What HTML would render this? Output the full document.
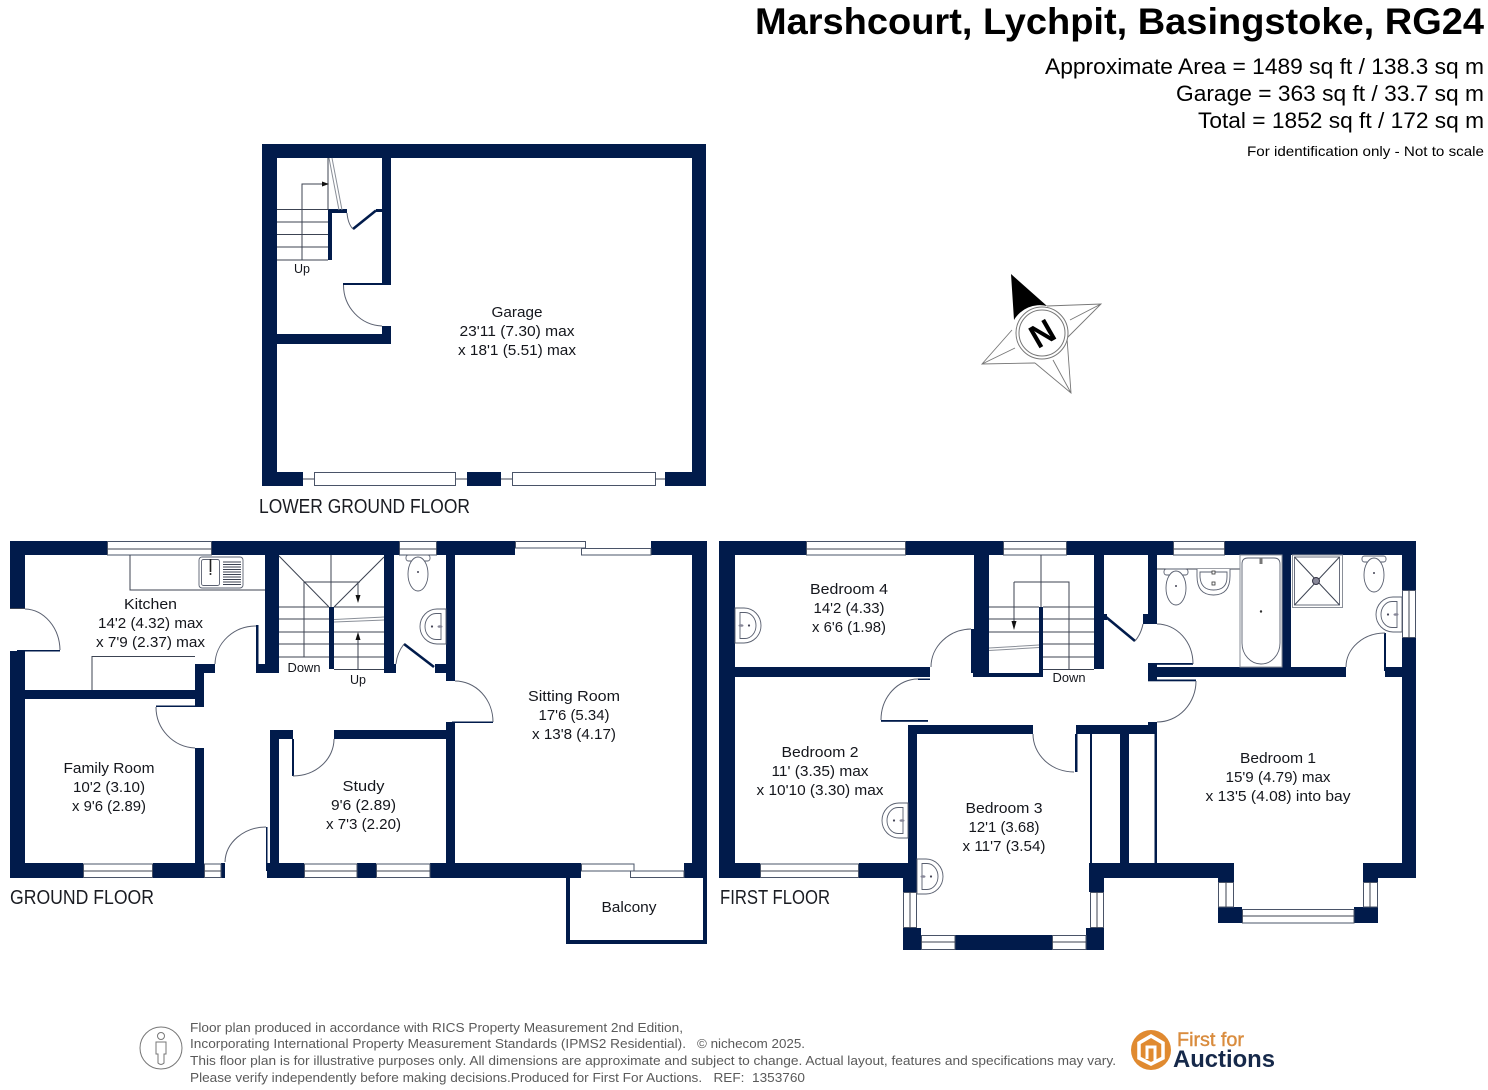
<!DOCTYPE html>
<html><head><meta charset="utf-8"><title>Floor plan</title>
<style>
html,body{margin:0;padding:0;background:#fff}
svg{display:block}
text{font-family:"Liberation Sans",sans-serif;fill:#14161c}
.r text,text.r{font-size:15px;text-anchor:middle}
.wall{fill:#011b4b}
.win{fill:#fff;stroke:#4a5468;stroke-width:1}
.ln{fill:none;stroke:#3c4352;stroke-width:1}
.gl{fill:none;stroke:#8a8f98;stroke-width:1}
.arc{fill:none;stroke:#5a6070;stroke-width:1}
.thick{fill:none;stroke:#011b4b;stroke-width:2.6}
.fx{fill:#fff;stroke:#5a6070;stroke-width:.9}
.ft{font-size:12.6px;fill:#5a5a5a}
.fl{font-size:20px;fill:#1a1c22}
</style></head><body>
<svg width="1488" height="1090" viewBox="0 0 1488 1090" xmlns="http://www.w3.org/2000/svg">
<defs>
<g id="toilet"><rect class="fx" x="-12" y="0" width="24" height="6" rx="2.5"/><ellipse class="fx" cx="0" cy="19" rx="10" ry="17"/><circle cx="0" cy="17" r="1" fill="#445"/></g>
<g id="sink"><path class="fx" d="M0 0H-9A17 17.5 0 0 0 -9 35H0Z"/><path class="fx" d="M-5 4.500H-10A11 13 0 0 0 -10 30.500H-5Z"/><circle cx="-14" cy="17.500" r="1.100" fill="#445"/><ellipse cx="-6" cy="17.500" rx="2.500" ry="1.300" fill="#889"/></g>
</defs>

<!-- Title -->
<text x="1484" y="34" text-anchor="end" font-size="37" font-weight="700" textLength="729" lengthAdjust="spacingAndGlyphs" style="fill:#000">Marshcourt, Lychpit, Basingstoke, RG24</text>
<text x="1484" y="74" text-anchor="end" font-size="22" textLength="439" lengthAdjust="spacingAndGlyphs" style="fill:#000">Approximate Area = 1489 sq ft / 138.3 sq m</text>
<text x="1484" y="101" text-anchor="end" font-size="22" textLength="308" lengthAdjust="spacingAndGlyphs" style="fill:#000">Garage = 363 sq ft / 33.7 sq m</text>
<text x="1484" y="128" text-anchor="end" font-size="22" textLength="286" lengthAdjust="spacingAndGlyphs" style="fill:#000">Total = 1852 sq ft / 172 sq m</text>
<text x="1484" y="156" text-anchor="end" font-size="14" textLength="237" lengthAdjust="spacingAndGlyphs" style="fill:#000">For identification only - Not to scale</text>

<!-- ============ GARAGE ============ -->
<g class="wall">
<rect x="262" y="144" width="444" height="14"/>
<rect x="262" y="144" width="15" height="342"/>
<rect x="692" y="144" width="14" height="342"/>
<rect x="262" y="472" width="41" height="14"/>
<rect x="467" y="472" width="34" height="14"/>
<rect x="665" y="472" width="41" height="14"/>
<rect x="382" y="158" width="9" height="126"/>
<rect x="382" y="326" width="9" height="18"/>
<rect x="277" y="334" width="114" height="10"/>
<rect x="343" y="283" width="48" height="2"/>
<rect x="328" y="210" width="4" height="50"/>
<rect x="328" y="209" width="19" height="4"/>
<rect x="376" y="209" width="6" height="3"/>
</g>
<rect class="win" x="314.500" y="472.500" width="141" height="13"/>
<rect class="win" x="512.500" y="472.500" width="143" height="13"/>
<path class="ln" d="M303 479H314M456 479H467M501 479H512M655 479H665"/>
<path class="arc" d="M343.500 285A40 41 0 0 0 382 326"/>
<path class="thick" d="M353 229L376 210.500"/>
<path class="arc" d="M347 213Q348 224 353 229"/>
<path class="ln" d="M277 209.500H328M277 222H328M277 234.500H328M277 247H328M277 260H328M302 260V184H326M328 158V210"/>
<path d="M322 181.500L329 184L322 186.500Z" fill="#111"/>
<path class="gl" d="M329 158L339 210M332 158L342 210"/>
<text class="r" x="302" y="273" style="font-size:12.500px" textLength="16" lengthAdjust="spacingAndGlyphs">Up</text>
<g class="r">
<text x="517" y="317" textLength="51" lengthAdjust="spacingAndGlyphs">Garage</text>
<text x="517" y="336" textLength="115" lengthAdjust="spacingAndGlyphs">23'11 (7.30) max</text>
<text x="517" y="355" textLength="118" lengthAdjust="spacingAndGlyphs">x 18'1 (5.51) max</text>
</g>
<text class="fl" x="259" y="513" textLength="211" lengthAdjust="spacingAndGlyphs">LOWER GROUND FLOOR</text>

<!-- ============ GROUND FLOOR ============ -->
<g class="wall">
<rect x="10" y="541" width="97" height="14"/>
<rect x="212" y="541" width="187" height="14"/>
<rect x="437" y="541" width="78" height="14"/>
<rect x="651" y="541" width="56" height="14"/>
<rect x="692" y="541" width="15" height="337"/>
<rect x="10" y="541" width="15" height="68"/>
<rect x="10" y="651" width="15" height="227"/>
<rect x="25" y="690" width="179" height="9"/>
<rect x="195" y="664" width="9" height="42"/>
<rect x="195" y="664" width="20" height="9"/>
<rect x="156" y="705.500" width="48" height="1.500"/>
<rect x="195" y="748" width="9" height="130"/>
<rect x="17" y="650" width="43" height="1.500"/>
<rect x="265" y="555" width="14" height="118"/>
<rect x="256" y="625" width="2.500" height="48"/>
<rect x="256" y="664" width="23" height="9"/>
<rect x="329" y="607" width="5" height="62"/>
<rect x="384" y="555" width="10" height="118"/>
<rect x="394" y="664" width="2" height="9"/>
<rect x="435" y="664" width="11" height="9"/>
<rect x="446" y="555" width="9" height="126"/>
<rect x="446" y="722" width="9" height="156"/>
<rect x="452" y="721.500" width="41" height="1.500"/>
<rect x="270" y="730" width="23" height="9"/>
<rect x="334" y="730" width="112" height="9"/>
<rect x="270" y="730" width="9" height="148"/>
<rect x="292" y="739" width="2" height="37"/>
<rect x="10" y="863" width="73" height="15"/>
<rect x="153" y="863" width="51" height="15"/>
<rect x="221" y="863" width="4" height="15"/>
<rect x="267" y="863" width="37" height="15"/>
<rect x="266" y="827" width="1.500" height="44"/>
<rect x="357" y="863" width="19" height="15"/>
<rect x="430" y="863" width="151" height="15"/>
<rect x="684" y="863" width="23" height="15"/>
<rect x="566" y="878" width="4" height="66"/>
<rect x="703" y="878" width="4" height="66"/>
<rect x="566" y="940" width="141" height="4"/>
</g>
<!-- GF windows -->
<rect class="win" x="107.500" y="541.500" width="104" height="13.500"/><path class="ln" d="M107 549H212"/>
<rect class="win" x="399.500" y="541.500" width="37" height="13.500"/><path class="ln" d="M399 549H437"/>
<rect class="win" x="515.500" y="541.500" width="70" height="6.500"/>
<rect class="win" x="581.500" y="548.500" width="69.500" height="6.500"/>
<rect class="win" x="83.500" y="864" width="69" height="13.500"/><path class="ln" d="M83 871H153"/>
<rect class="win" x="204.500" y="864" width="16.500" height="13.500"/><path class="ln" d="M204 871H221"/>
<rect class="win" x="304.500" y="864" width="52.500" height="13.500"/><path class="ln" d="M304 871H357"/>
<rect class="win" x="376.500" y="864" width="53.500" height="13.500"/><path class="ln" d="M376 871H430"/>
<rect class="win" x="581.500" y="864" width="52.500" height="7"/>
<rect class="win" x="630.500" y="871" width="53.500" height="6.500"/>
<!-- GF doors -->
<path class="arc" d="M25 609A36 42 0 0 1 60 650"/>
<path class="ln" d="M10 608.500H25"/>
<path class="arc" d="M156 707A41 41 0 0 0 195 748"/>
<path class="arc" d="M215 664A41 39 0 0 1 256 626"/>
<path class="arc" d="M293 776A41 37 0 0 0 334 739"/>
<path class="arc" d="M225 862A41 36 0 0 1 266 827"/>
<path class="arc" d="M455 681A38 41 0 0 1 493 722"/>
<path class="thick" d="M404 644L434 667"/>
<path class="arc" d="M396 664Q397 653 404 644"/>
<!-- Kitchen -->
<path class="ln" d="M130 555V590H265M92 690V656.500H195"/>
<rect class="fx" x="199" y="557" width="44" height="31" rx="3"/>
<rect class="fx" x="201.500" y="559.500" width="18" height="26" rx="2"/>
<path d="M223 562H241M223 564.500H241M223 567H241M223 569.500H241M223 572H241M223 574.500H241M223 577H241M223 579.500H241M223 582H241M223 584.500H241" stroke="#3c4352" stroke-width="1" fill="none"/>
<path d="M210.500 559V572" stroke="#222" stroke-width="1.600"/><circle cx="210.500" cy="574" r="1" fill="#222"/>
<!-- GF Stairs -->
<path class="ln" d="M279 556L329 607M384 557L334 607M331 555V607M304 582H360M304 582V657M279 607H329M279 619H329M279 632H329M279 644H329M279 657H329M334 607H384M334 632H384M334 644H384M334 657H384M334 669.500H384M358 582V597M358 636V669"/>
<path class="gl" d="M334 619.500L384 617M334 622L384 620"/>
<path d="M355.500 595L358 603L360.500 595ZM355.500 640L358 632L360.500 640Z" fill="#111"/>
<text class="r" x="304" y="672" style="font-size:12.500px" textLength="33" lengthAdjust="spacingAndGlyphs">Down</text>
<text class="r" x="358" y="684" style="font-size:12.500px" textLength="16" lengthAdjust="spacingAndGlyphs">Up</text>
<!-- WC -->
<use href="#toilet" x="418" y="555"/>
<use href="#sink" x="446" y="609"/>
<g class="r">
<text x="150.500" y="609" textLength="53" lengthAdjust="spacingAndGlyphs">Kitchen</text>
<text x="150.500" y="628" textLength="105" lengthAdjust="spacingAndGlyphs">14'2 (4.32) max</text>
<text x="150.500" y="647" textLength="109" lengthAdjust="spacingAndGlyphs">x 7'9 (2.37) max</text>
<text x="109" y="773" textLength="91" lengthAdjust="spacingAndGlyphs">Family Room</text>
<text x="109" y="792" textLength="72" lengthAdjust="spacingAndGlyphs">10'2 (3.10)</text>
<text x="109" y="811" textLength="74" lengthAdjust="spacingAndGlyphs">x 9'6 (2.89)</text>
<text x="363.500" y="791" textLength="42" lengthAdjust="spacingAndGlyphs">Study</text>
<text x="363.500" y="810" textLength="65" lengthAdjust="spacingAndGlyphs">9'6 (2.89)</text>
<text x="363.500" y="829" textLength="75" lengthAdjust="spacingAndGlyphs">x 7'3 (2.20)</text>
<text x="574" y="701" textLength="92" lengthAdjust="spacingAndGlyphs">Sitting Room</text>
<text x="574" y="720" textLength="71" lengthAdjust="spacingAndGlyphs">17'6 (5.34)</text>
<text x="574" y="739" textLength="84" lengthAdjust="spacingAndGlyphs">x 13'8 (4.17)</text>
<text x="629" y="912" textLength="55" lengthAdjust="spacingAndGlyphs">Balcony</text>
</g>
<text class="fl" x="10" y="904" textLength="144" lengthAdjust="spacingAndGlyphs">GROUND FLOOR</text>

<!-- ============ FIRST FLOOR ============ -->
<g class="wall">
<rect x="719" y="541" width="87" height="14"/>
<rect x="906" y="541" width="97" height="14"/>
<rect x="1067" y="541" width="106" height="14"/>
<rect x="1225" y="541" width="191" height="14"/>
<rect x="1402" y="541" width="14" height="49"/>
<rect x="1402" y="638" width="14" height="240"/>
<rect x="719" y="541" width="16" height="337"/>
<rect x="735" y="667" width="195" height="10"/>
<rect x="918" y="678.500" width="12" height="1.500"/>
<rect x="881" y="720" width="47" height="1.800"/>
<rect x="974" y="555" width="15" height="74"/>
<rect x="971" y="629" width="18" height="44"/>
<rect x="973" y="673" width="70" height="4"/>
<rect x="1039" y="607" width="4" height="70"/>
<rect x="1094" y="555" width="10" height="114"/>
<rect x="1148" y="555" width="9" height="69"/>
<rect x="1143" y="614" width="14" height="10"/>
<rect x="1104" y="614" width="3" height="6"/>
<rect x="1148" y="663" width="45" height="1.800"/>
<rect x="1148" y="663" width="9" height="17"/>
<rect x="1148" y="667" width="198" height="10"/>
<rect x="1148" y="679.500" width="48" height="1.800"/>
<rect x="1282" y="555" width="9" height="112"/>
<rect x="1385" y="667" width="17" height="10"/>
<rect x="1384" y="633" width="2" height="38"/>
<rect x="908" y="725" width="125" height="9"/>
<rect x="1076" y="725" width="81" height="9"/>
<rect x="1148" y="722" width="9" height="12"/>
<rect x="1075" y="734" width="2.500" height="38"/>
<rect x="908" y="725" width="9" height="140"/>
<rect x="903" y="863" width="14" height="29"/>
<rect x="719" y="863" width="41" height="15"/>
<rect x="859" y="863" width="58" height="15"/>
<rect x="903" y="928" width="18" height="22"/>
<rect x="903" y="935" width="18" height="15"/>
<rect x="955" y="935" width="97" height="15"/>
<rect x="1086" y="928" width="18" height="22"/>
<rect x="1089" y="863" width="15" height="29"/>
<rect x="1090" y="734" width="2" height="130"/>
<rect x="1120" y="734" width="9" height="130"/>
<rect x="1154.500" y="734" width="2.500" height="130"/>
<rect x="1089" y="863" width="145" height="15"/>
<rect x="1218" y="863" width="16" height="19"/>
<rect x="1218" y="907" width="24" height="16"/>
<rect x="1354" y="907" width="24" height="16"/>
<rect x="1363" y="863" width="53" height="15"/>
<rect x="1363" y="863" width="15" height="19"/>
</g>
<!-- FF windows -->
<rect class="win" x="806.500" y="541.500" width="99" height="13.500"/><path class="ln" d="M806 549H906"/>
<rect class="win" x="1003.500" y="541.500" width="63" height="13.500"/><path class="ln" d="M1003 549H1067"/>
<rect class="win" x="1173.500" y="541.500" width="51" height="13.500"/><path class="ln" d="M1173 549H1225"/>
<rect class="win" x="1402.500" y="590.500" width="13" height="47"/><path class="ln" d="M1409 590V638"/>
<rect class="win" x="760.500" y="864" width="98" height="13.500"/><path class="ln" d="M760 871H859"/>
<rect class="win" x="903.500" y="892.500" width="13" height="35"/><path class="ln" d="M910 892V928"/>
<rect class="win" x="1090.500" y="892.500" width="13" height="35"/><path class="ln" d="M1097 892V928"/>
<rect class="win" x="921.500" y="935.500" width="33.500" height="14"/><path class="ln" d="M921 942H955"/>
<rect class="win" x="1052.500" y="935.500" width="33.500" height="14"/><path class="ln" d="M1052 942H1086"/>
<rect class="win" x="1218.500" y="882.500" width="15" height="24.500"/><path class="ln" d="M1226 882V907"/>
<rect class="win" x="1363.500" y="882.500" width="14" height="24.500"/><path class="ln" d="M1370 882V907"/>
<rect class="win" x="1242.500" y="909.500" width="111.500" height="13.500"/><path class="ln" d="M1242 916H1354"/>
<!-- FF doors -->
<path class="arc" d="M971 629A41 38 0 0 0 931 667"/>
<path class="arc" d="M918 679A37 41 0 0 0 881 720"/>
<path class="arc" d="M1033 734A41 38 0 0 0 1074 772"/>
<path class="arc" d="M1157 624A36 40 0 0 1 1193 664"/>
<path class="arc" d="M1196 681A39 41 0 0 1 1157 722"/>
<path class="arc" d="M1346 667A39 34 0 0 1 1385 633"/>
<path class="thick" d="M1106 617L1135 641"/>
<path class="arc" d="M1135 641Q1141 634 1143 624"/>
<!-- FF stairs -->
<path class="ln" d="M1041 555V607M1014 582H1069V669M1014 582V622M989 607H1039M989 619H1039M989 632H1039M1043 607H1094M1043 619H1094M1043 632H1094M1043 644H1094M1043 657H1094M1043 669.500H1094"/>
<path class="gl" d="M989 648L1039 645M989 650.500L1039 647.500"/>
<path d="M1011.500 621L1014 630L1016.500 621Z" fill="#111"/>
<text class="r" x="1069" y="682" style="font-size:12.500px" textLength="33" lengthAdjust="spacingAndGlyphs">Down</text>
<!-- Bathroom fixtures -->
<path class="ln" d="M1157 569H1240"/>
<use href="#toilet" x="1176" y="569"/>
<path class="fx" d="M1197 569V576Q1197 595 1213.500 595Q1230 595 1230 576V569"/>
<path class="fx" d="M1200 572V577Q1201 590 1213.500 590Q1227 590 1227 577V572Z"/>
<rect x="1212" y="571" width="3" height="3" fill="#fff" stroke="#333" stroke-width=".8"/><rect x="1212" y="582" width="3" height="3" fill="#fff" stroke="#333" stroke-width=".8"/>
<rect class="gl" x="1240" y="555" width="42" height="112"/>
<path class="fx" d="M1248 558H1274Q1280 558 1280 564V643A19 21 0 0 1 1242 643V564Q1242 558 1248 558Z"/>
<circle cx="1261" cy="611.500" r="1.200" fill="#333"/><rect x="1259.500" y="558" width="3" height="6" fill="#777"/>
<rect class="gl" x="1292.500" y="555" width="50" height="52.500"/>
<rect class="fx" x="1294.500" y="557" width="45" height="48"/>
<path class="ln" d="M1294.500 557L1339.500 605M1339.500 557L1294.500 605" stroke-width=".8"/>
<circle cx="1316" cy="581" r="3.500" fill="#889" stroke="#334"/>
<use href="#toilet" x="1374" y="556"/>
<use href="#sink" x="1402" y="597"/>
<!-- Bedroom sinks -->
<g transform="translate(735 608) scale(-1 1)"><use href="#sink"/></g>
<use href="#sink" x="908" y="803"/>
<g transform="translate(917 859) scale(-1 1)"><use href="#sink"/></g>
<g class="r">
<text x="849" y="594" textLength="78" lengthAdjust="spacingAndGlyphs">Bedroom 4</text>
<text x="849" y="613" textLength="71" lengthAdjust="spacingAndGlyphs">14'2 (4.33)</text>
<text x="849" y="632" textLength="74" lengthAdjust="spacingAndGlyphs">x 6'6 (1.98)</text>
<text x="820" y="757" textLength="77" lengthAdjust="spacingAndGlyphs">Bedroom 2</text>
<text x="820" y="776" textLength="97" lengthAdjust="spacingAndGlyphs">11' (3.35) max</text>
<text x="820" y="795" textLength="127" lengthAdjust="spacingAndGlyphs">x 10'10 (3.30) max</text>
<text x="1004" y="813" textLength="77" lengthAdjust="spacingAndGlyphs">Bedroom 3</text>
<text x="1004" y="832" textLength="71" lengthAdjust="spacingAndGlyphs">12'1 (3.68)</text>
<text x="1004" y="851" textLength="83" lengthAdjust="spacingAndGlyphs">x 11'7 (3.54)</text>
<text x="1278" y="763" textLength="76" lengthAdjust="spacingAndGlyphs">Bedroom 1</text>
<text x="1278" y="782" textLength="105" lengthAdjust="spacingAndGlyphs">15'9 (4.79) max</text>
<text x="1278" y="801" textLength="145" lengthAdjust="spacingAndGlyphs">x 13'5 (4.08) into bay</text>
</g>
<text class="fl" x="720" y="904" textLength="110" lengthAdjust="spacingAndGlyphs">FIRST FLOOR</text>

<!-- ============ COMPASS ============ -->
<g fill="none" stroke="#777" stroke-width=".9">
<path d="M1047 306L1101 304L1067 338M1101 304L1070 320"/>
<path d="M1035 363L1071 393L1067 338M1071 393L1053 360"/>
<path d="M1012 330L982 364L1035 363M982 364L1015 348"/>
</g>
<path d="M1011 274L1047 306A30 30 0 0 0 1014 320Z" fill="#000"/>
<circle cx="1042" cy="333" r="26" fill="#fff" stroke="#777"/>
<circle cx="1042" cy="333" r="23" fill="#fff" stroke="#777"/>
<text x="1042" y="345" transform="rotate(-30 1042 333)" text-anchor="middle" font-size="33" font-weight="700" style="fill:#000">N</text>

<!-- ============ FOOTER ============ -->
<circle cx="161" cy="1048" r="21" fill="none" stroke="#777" stroke-width="1"/>
<circle cx="161" cy="1036" r="3.500" fill="none" stroke="#777" stroke-width="1"/>
<path d="M156 1042H166V1054H164V1063Q161 1066 158 1063V1054H156Z" fill="none" stroke="#777" stroke-width="1"/>
<text class="ft" x="190" y="1032" textLength="493" lengthAdjust="spacingAndGlyphs">Floor plan produced in accordance with RICS Property Measurement 2nd Edition,</text>
<text class="ft" x="190" y="1048" textLength="496" lengthAdjust="spacingAndGlyphs">Incorporating International Property Measurement Standards (IPMS2 Residential).</text>
<text class="ft" x="697" y="1048" textLength="108" lengthAdjust="spacingAndGlyphs">© nichecom 2025.</text>
<text class="ft" x="190" y="1065" textLength="926" lengthAdjust="spacingAndGlyphs">This floor plan is for illustrative purposes only. All dimensions are approximate and subject to change. Actual layout, features and specifications may vary.</text>
<text class="ft" x="190" y="1082" textLength="615" lengthAdjust="spacingAndGlyphs">Please verify independently before making decisions.Produced for First For Auctions.&#160;&#160; REF:&#160; 1353760</text>

<!-- Logo -->
<circle cx="1151" cy="1050" r="20" fill="#e08a30"/>
<path d="M1151 1036L1163 1043V1058L1151 1064L1139 1058V1043Z" fill="none" stroke="#fff" stroke-width="3.500"/>
<path d="M1147 1059V1047H1155V1061" fill="none" stroke="#fff" stroke-width="3"/>
<text x="1177" y="1046" font-size="19" font-weight="400" textLength="67" lengthAdjust="spacingAndGlyphs" style="fill:#d98c3e;stroke:#d98c3e;stroke-width:.4">First for</text>
<text x="1173" y="1067" font-size="24" font-weight="700" textLength="102" lengthAdjust="spacingAndGlyphs" style="fill:#16294a">Auctions</text>
</svg>
</body></html>
